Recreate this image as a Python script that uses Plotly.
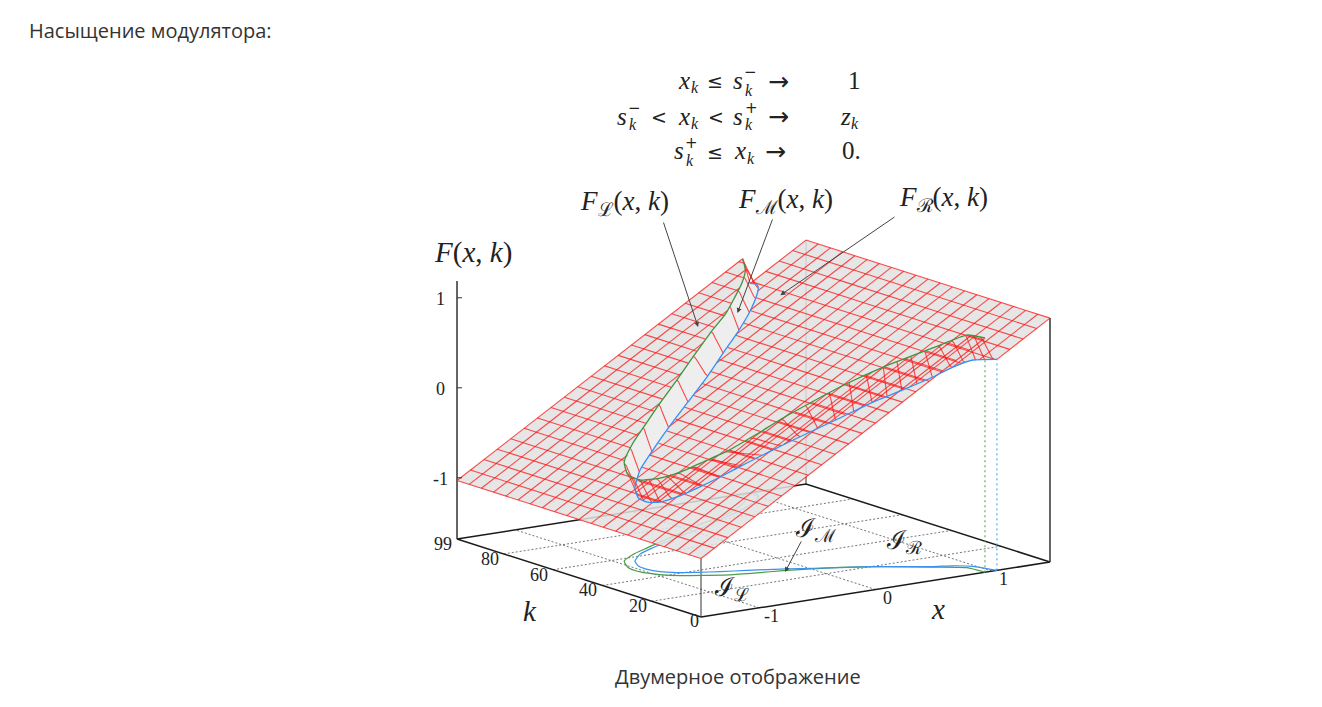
import numpy as np
import plotly.graph_objects as go

# Valeurs (x, k, F)
X_GRID = [-1.5, -1.385, -1.269, -1.154, -1.038, -0.923, -0.808, -0.692, -0.577, -0.462, -0.346, -0.231, -0.115, 0,
          0.115, 0.231, 0.346, 0.462, 0.577, 0.692, 0.808, 0.923, 1.038, 1.154, 1.269, 1.385, 1.5]
K_GRID = [0, 4.95, 9.9, 14.85, 19.8, 24.75, 29.7, 34.65, 39.6, 44.55, 49.5, 54.45, 59.4, 64.35, 69.3, 74.25, 79.2,
          84.15, 89.1, 94.05, 99]
F_LEFT = [-1.03, -0.938, -0.845, -0.753, -0.66, -0.568, -0.476, -0.384, -0.292, -0.2, -0.107, -0.015, 0.078, 0.17,
          0.262, 0.355, 0.447, 0.54, 0.632, 0.724, 0.816, 0.908, 1.0, 1.093, 1.185, 1.278, 1.37]
F_RIGHT = [-1.37, -1.278, -1.185, -1.093, -1.0, -0.908, -0.816, -0.724, -0.632, -0.54, -0.447, -0.355, -0.262, -0.17,
           -0.078, 0.015, 0.107, 0.2, 0.292, 0.384, 0.476, 0.568, 0.66, 0.753, 0.845, 0.938, 1.03]

GREEN_K = [99, 94, 90.2, 86, 83.5, 80.8, 76.9, 73, 69.3, 66, 62.3, 57.8, 51.9, 46.5, 41.6, 38, 35.1, 32, 30, 28.4,
           23.6, 18.5, 11.3, 6.3, 0]
GREEN_X = [0.955, 0.873, 0.763, 0.592, 0.48, 0.291, 0.06, -0.16, -0.383, -0.565, -0.765, -0.936, -1.028, -1.037,
           -0.972, -0.875, -0.738, -0.576, -0.384, -0.193, 0.193, 0.458, 0.732, 0.919, 0.941]
GREEN_F = [0.934, 0.868, 0.78, 0.644, 0.554, 0.403, 0.218, 0.042, -0.136, -0.282, -0.442, -0.579, -0.652, -0.66,
           -0.608, -0.53, -0.42, -0.291, -0.137, 0.016, 0.324, 0.536, 0.756, 0.905, 0.923]

BLUE_K = [99, 96.8, 95, 92.8, 88.6, 84.6, 81, 76.8, 73, 69.8, 65.3, 61.6, 56.4, 51.7, 47.7, 44, 41, 38.5, 36, 33.5,
          29.4, 23.4, 19.8, 15.2, 11.8, 9.8, 6.6, 0]
BLUE_X = [1.02, 1.03, 1.005, 0.946, 0.795, 0.608, 0.406, 0.178, -0.065, -0.27, -0.53, -0.719, -0.873, -0.943, -0.952,
          -0.92, -0.838, -0.717, -0.573, -0.396, -0.139, 0.19, 0.398, 0.593, 0.745, 0.873, 0.9785, 1.044]
BLUE_F = [0.646, 0.654, 0.634, 0.587, 0.466, 0.316, 0.155, -0.028, -0.222, -0.386, -0.594, -0.745, -0.868, -0.924,
          -0.932, -0.906, -0.84, -0.744, -0.628, -0.487, -0.281, -0.018, 0.148, 0.304, 0.426, 0.528, 0.613, 0.665]

# forme de la chute entre les deux courbes
BAND_T = [0, 0.15, 0.3, 0.5, 0.7, 0.85, 1]
BAND_DROP = [0, 0.1, 0.27, 0.5, 0.73, 0.9, 1]
# lignes de la nappe centrale : branche haute, puis branche basse
STEEP_K = [53, 57, 61, 65, 69, 73, 77, 81, 85, 88.5, 92, 95, 97.5, 99]
LOW_K = [1.5, 4, 6.5, 8.5, 10.5, 12.5, 14.5, 16.5, 18.5, 20.5, 22.5, 24.5, 26.5, 28.5, 30.5, 32.5, 34.5, 36.5, 38.5,
         40.5, 42.5, 44.5, 47, 50]
LOW_SKEW = 0.6

X_TICKS = [-1, 0, 1]
K_TICKS = [0, 20, 40, 60, 80, 99]
Z_TICKS = [-1, 0, 1]
Z_FLOOR = -1.68
Z_TOP = 1.187


# projection gnuplot (orthographique) vers les pixels de la page
def project(x, k, f):
    x, k, f = np.asarray(x, float), np.asarray(k, float), np.asarray(f, float)
    sx = 875.5 + 116.33 * x - 2.4646 * k
    sy = 617 - 18.33 * (x + 1.5) - 0.788 * k - 90 * (f - Z_FLOOR)
    return sx, sy


def line(x, k, f, color, width, dash=None, smooth=False):
    sx, sy = project(x, k, f)
    style = dict(color=color, width=width, dash=dash)
    if smooth:
        style.update(shape="spline", smoothing=0.5)
    return go.Scatter(x=sx, y=sy, mode="lines", hoverinfo="skip", showlegend=False, line=style)


def fill(x, k, f, color):
    sx, sy = project(x, k, f)
    return go.Scatter(x=sx, y=sy, mode="lines", fill="toself", fillcolor=color, hoverinfo="skip",
                      showlegend=False, line=dict(width=0))


def plane_left(x):
    return np.interp(x, X_GRID, F_LEFT)


def plane_right(x):
    return np.interp(x, X_GRID, F_RIGHT)


green_k_up, green_x_up = GREEN_K[::-1], GREEN_X[::-1]
blue_k_up, blue_x_up = BLUE_K[::-1], BLUE_X[::-1]


# un trait de la nappe centrale, de la courbe verte à k vers la courbe bleue à k - skew
def band_stroke(k, skew=0.0):
    xa = float(np.interp(k, green_k_up, green_x_up))
    xb = float(np.interp(max(k - skew, 0), blue_k_up, blue_x_up))
    top, low = float(plane_left(xa)), float(plane_right(xb))
    band_x = [xa + t * (xb - xa) for t in BAND_T]
    band_k = [k - t * (k - max(k - skew, 0)) for t in BAND_T]
    band_f = [top + d * (low - top) for d in BAND_DROP]
    return band_x, band_k, band_f


fig = go.Figure()

# Sol : cadre et pointillés
floor_ink = "#1a1a1a"
dots = "#666666"
for tick in X_TICKS:
    fig.add_trace(line([tick, tick], [0, 99], [Z_FLOOR, Z_FLOOR], dots, 0.9, "2px,2px"))
for tick in K_TICKS[1:-1]:
    fig.add_trace(line([-1.5, 1.5], [tick, tick], [Z_FLOOR, Z_FLOOR], dots, 0.9, "2px,2px"))
fig.add_trace(line([-1.5, 1.5, 1.5, -1.5, -1.5], [0, 0, 99, 99, 0], [Z_FLOOR] * 5, floor_ink, 1.5))
fig.add_trace(line([-1.5, -1.5], [99, 99], [Z_FLOOR, Z_TOP], "#333333", 1.5))
fig.add_trace(line([1.5, 1.5], [0, 0], [Z_FLOOR, 1.03], "#333333", 1.5))
fig.add_trace(line([-1.5, -1.5], [0, 0], [Z_FLOOR, -1.03], "#333333", 1.0))
fig.add_trace(line([1.5, 1.5], [99, 99], [Z_FLOOR, 1.03], "#333333", 1.0))

# Courbes au sol et verticales
fig.add_trace(line(GREEN_X, GREEN_K, [Z_FLOOR] * len(GREEN_X), "#4a9d4a", 1.2, smooth=True))
fig.add_trace(line(BLUE_X, BLUE_K, [Z_FLOOR] * len(BLUE_X), "#3a92f0", 1.2, smooth=True))
fig.add_trace(line([GREEN_X[-1]] * 2, [0, 0], [Z_FLOOR, GREEN_F[-1]], "#4a9d4a", 1.0, "2px,3px"))
fig.add_trace(line([BLUE_X[-1]] * 2, [0, 0], [Z_FLOOR, BLUE_F[-1]], "#3a92f0", 1.0, "2px,3px"))

# Remplissage gris des trois nappes
grey = "rgba(226,226,226,0.86)"
fig.add_trace(fill([-1.5] + GREEN_X + [-1.5], [99] + GREEN_K + [0],
                   [plane_left(-1.5)] + GREEN_F + [plane_left(-1.5)], grey))
fig.add_trace(fill([1.5] + BLUE_X + [1.5], [99] + BLUE_K + [0],
                   [plane_right(1.5)] + BLUE_F + [plane_right(1.5)], grey))
fig.add_trace(fill(GREEN_X + BLUE_X[::-1], GREEN_K + BLUE_K[::-1], GREEN_F + BLUE_F[::-1], "rgba(226,226,226,0.6)"))

# Maillage rouge : lignes à k constant, coupées sur la nappe centrale
mesh_x, mesh_k, mesh_f = [], [], []
for k in K_GRID:
    sm = float(np.interp(k, green_k_up, green_x_up))
    sp = float(np.interp(k, blue_k_up, blue_x_up))
    left = [v for v in X_GRID if v < sm]
    right = [v for v in X_GRID if v > sp]
    mesh_x += left + [sm, np.nan, sp] + right + [np.nan]
    mesh_k += [k] * (len(left) + len(right) + 4)
    mesh_f += [float(plane_left(v)) for v in left] + [float(plane_left(sm)), np.nan, float(plane_right(sp))]
    mesh_f += [float(plane_right(v)) for v in right] + [np.nan]

# Maillage rouge : lignes à x constant, coupées aussi
ks = np.append(np.arange(0, 99, 0.25), 99)
sm_all = np.interp(ks, green_k_up, green_x_up)
sp_all = np.maximum(np.interp(ks, blue_k_up, blue_x_up), sm_all + 0.001)
for x in X_GRID:
    f = np.where(x <= sm_all, plane_left(x), np.nan)
    f = np.where(x >= sp_all, plane_right(x), f)
    jumps = np.where(np.abs(np.diff(f)) > 0.1)[0]
    f[jumps + 1] = np.nan
    mesh_x += [x] * len(ks) + [np.nan]
    mesh_k += list(ks) + [0]
    mesh_f += list(f) + [np.nan]

# Traits de la nappe centrale
for k in STEEP_K:
    band_x, band_k, band_f = band_stroke(k)
    mesh_x += band_x + [np.nan]
    mesh_k += band_k + [k]
    mesh_f += band_f + [np.nan]
for k in LOW_K:
    band_x, band_k, band_f = band_stroke(k, LOW_SKEW)
    mesh_x += band_x + [np.nan]
    mesh_k += band_k + [k]
    mesh_f += band_f + [np.nan]

fig.add_trace(line(mesh_x, mesh_k, mesh_f, "rgba(255,15,15,0.74)", 1.1))

# Courbes sur la surface
fig.add_trace(line(GREEN_X, GREEN_K, GREEN_F, "#3f9440", 1.3, smooth=True))
fig.add_trace(line(BLUE_X, BLUE_K, BLUE_F, "#3490f5", 1.3, smooth=True))

# Graduations de l'axe z
z_ticks_x, z_ticks_y = [], []
for tick in Z_TICKS:
    sx, sy = project(-1.5, 99, tick)
    z_ticks_x += [float(sx), float(sx) + 5, None]
    z_ticks_y += [float(sy), float(sy), None]
fig.add_trace(go.Scatter(x=z_ticks_x, y=z_ticks_y, mode="lines", hoverinfo="skip", showlegend=False,
                         line=dict(color="#333333", width=1.0)))

SERIF = "Liberation Serif"
SANS = "Open Sans"
SYMBOL = "DejaVu Sans"
notes = []


def text(px, py, s, size=16, font=SERIF, color="#222222", anchor="center"):
    notes.append(dict(x=px, y=py, xref="x", yref="y", text=s, showarrow=False, xanchor=anchor, yanchor="middle",
                      font=dict(family=font, size=size, color=color)))


def arrow(tail, tip_x, tip_k, tip_f):
    sx, sy = project(tip_x, tip_k, tip_f)
    notes.append(dict(x=float(sx), y=float(sy), xref="x", yref="y", axref="x", ayref="y", ax=tail[0], ay=tail[1],
                      text="", showarrow=True, arrowhead=2, arrowsize=1, arrowwidth=1, arrowcolor="#444444"))


# Graduations
for tick in X_TICKS:
    sx, sy = project(tick, 0, Z_FLOOR)
    text(float(sx) + 12, float(sy) + 8, str(tick), 18)
for tick in K_TICKS:
    sx, sy = project(-1.5, tick, Z_FLOOR)
    dx, dy = (-7, 4) if tick == 0 else (-14, 5)
    text(float(sx) + dx, float(sy) + dy, str(tick), 18)
for tick in Z_TICKS:
    sx, sy = project(-1.5, 99, tick)
    text(float(sx) - 17, float(sy) + 1, str(tick), 18)

# Étiquettes des axes et des nappes
text(473, 252, "<i>F</i>(<i>x</i>, <i>k</i>)", 29)
text(624, 203, "<i>F</i><sub>ℒ</sub>(<i>x</i>, <i>k</i>)", 27)
text(785, 201, "<i>F</i><sub>ℳ</sub>(<i>x</i>, <i>k</i>)", 27)
text(943, 199, "<i>F</i><sub>ℛ</sub>(<i>x</i>, <i>k</i>)", 27)
text(938, 609, "<i>x</i>", 29)
text(530, 611, "<i>k</i>", 29)
text(815, 530, "ℐ<sub>ℳ</sub>", 26)
text(904, 542, "ℐ<sub>ℛ</sub>", 26)
text(731, 589, "ℐ<sub>ℒ</sub>", 26)

arrow((663, 221), 0.308, 86.5, 0.416)
arrow((773, 218), 0.72, 90, 0.458)
arrow((896, 216), 1.004, 86, 0.633)
arrow((802, 540), -0.206, 27, Z_FLOOR)

# Système d'équations
text(684, 80, "<i>x</i>", 25)
text(695, 87, "<i>k</i>", 16)
text(715, 81, "≤", 19, SYMBOL)
text(738, 80, "<i>s</i>", 25)
text(750, 72, "−", 15, SYMBOL)
text(749, 90, "<i>k</i>", 16)
text(778, 81, "→", 25, SYMBOL)
text(854, 80, "1", 25)

text(622, 116, "<i>s</i>", 25)
text(634, 108, "−", 15, SYMBOL)
text(633, 124, "<i>k</i>", 16)
text(659, 117, "&lt;", 19, SYMBOL)
text(684, 116, "<i>x</i>", 25)
text(695, 123, "<i>k</i>", 16)
text(716, 117, "&lt;", 19, SYMBOL)
text(738, 116, "<i>s</i>", 25)
text(751, 108, "+", 15, SYMBOL)
text(749, 124, "<i>k</i>", 16)
text(778, 116, "→", 25, SYMBOL)
text(845, 116, "<i>z</i>", 25)
text(855, 123, "<i>k</i>", 16)

text(679, 150, "<i>s</i>", 25)
text(691, 143, "+", 15, SYMBOL)
text(690, 160, "<i>k</i>", 16)
text(715, 152, "≤", 19, SYMBOL)
text(740, 150, "<i>x</i>", 25)
text(751, 158, "<i>k</i>", 16)
text(775, 151, "→", 25, SYMBOL)
text(851, 150, "0.", 25)

# Texte de la page
text(27, 30, "Насыщение модулятора:", 20, SANS, "#333333", "left")
text(738, 676, "Двумерное отображение", 20, SANS, "#333333")

fig.update_layout(
    width=1322,
    height=707,
    margin=dict(l=0, r=0, t=0, b=0),
    plot_bgcolor="white",
    paper_bgcolor="white",
    showlegend=False,
    xaxis=dict(visible=False, range=[0, 1322], fixedrange=True),
    yaxis=dict(visible=False, range=[707, 0], fixedrange=True),
    annotations=notes,
)

fig.write_html("out.html", config=dict(displayModeBar=False), post_script="document.body.style.margin='0';")
